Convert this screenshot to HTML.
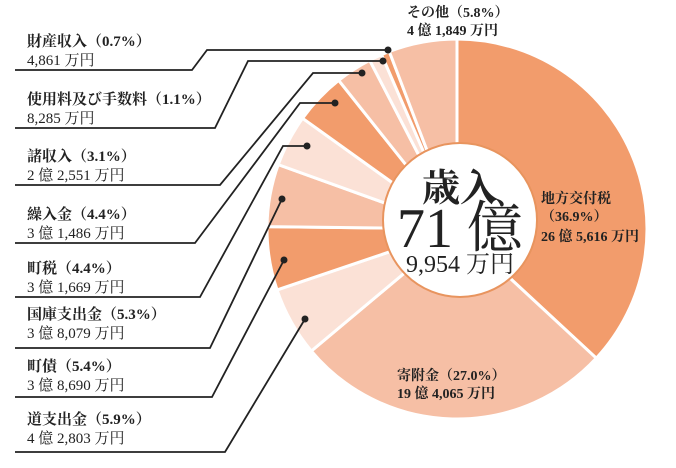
<!DOCTYPE html>
<html><head><meta charset="utf-8"><style>
body{margin:0;background:#fff;width:676px;height:463px;overflow:hidden}
svg text{font-family:"Liberation Serif","Noto Serif CJK SC",serif;font-weight:bold;fill:#222}
svg text.n{font-weight:normal}
</style></head><body>
<svg id="s" width="676" height="463" viewBox="0 0 676 463"></svg>
<script>
const s=document.getElementById('s');
const cx=457,cy=229,r=190;
const D='#f29c6c',M='#f6bfa5',L='#fbe1d6';
const data=[[36.9,D],[27.0,M],[5.9,L],[5.4,D],[5.3,M],[4.4,L],[4.4,D],[3.1,M],[1.1,L],[0.7,D],[5.8,M]];
let a=0,h='';
function pt(t,rr){const q=(t/100)*2*Math.PI;return [cx+rr*Math.sin(q),cy-rr*Math.cos(q)];}
data.forEach(([v,c])=>{const p1=pt(a,r),p2=pt(a+v,r);const lg=v>50?1:0;
h+=`<path d="M${cx},${cy}L${p1[0]},${p1[1]}A${r},${r} 0 ${lg} 1 ${p2[0]},${p2[1]}Z" fill="${c}" stroke="#fff" stroke-width="3"/>`;a+=v;});
h+=`<circle cx="460" cy="220" r="77" fill="#fff" stroke="#e8945e" stroke-width="2"/>`;
const lines=[
[[15,70],[192,70],[207,50],[388,50]],
[[15,128],[215,128],[248,61],[383,61]],
[[15,185],[220,185],[313,73],[362,73]],
[[15,243],[195,243],[300,103],[335,103]],
[[15,297],[200,297],[283,146],[307,146]],
[[15,348],[210,348],[282,199]],
[[15,397],[212,397],[284,260]],
[[15,452],[225,452],[305,319]]];
lines.forEach(l=>{h+=`<polyline points="${l.map(p=>p.join(',')).join(' ')}" fill="none" stroke="#222" stroke-width="1.8"/>`;const e=l[l.length-1];h+=`<circle cx="${e[0]}" cy="${e[1]}" r="3.5" fill="#222"/>`;});
const labs=[["財産収入（0.7%）","4,861 万円",46],["使用料及び手数料（1.1%）","8,285 万円",104],["諸収入（3.1%）","2 億 2,551 万円",161],["繰入金（4.4%）","3 億 1,486 万円",219],["町税（4.4%）","3 億 1,669 万円",273],["国庫支出金（5.3%）","3 億 8,079 万円",319],["町債（5.4%）","3 億 8,690 万円",371],["道支出金（5.9%）","4 億 2,803 万円",424]];
labs.forEach(([a1,b,y])=>{h+=`<text x="27" y="${y}" font-size="15">${a1}</text><text class="n" x="27" y="${y+19}" font-size="15">${b}</text>`;});
h+=`<text x="407" y="17" font-size="14">その他（5.8%）</text><text x="407" y="35" font-size="14">4 億 1,849 万円</text>`;
h+=`<text x="541" y="203" font-size="14">地方交付税</text><text x="541" y="221" font-size="14">（36.9%）</text><text x="541" y="241" font-size="14">26 億 5,616 万円</text>`;
h+=`<text x="397" y="380" font-size="14">寄附金（27.0%）</text><text x="397" y="398" font-size="14">19 億 4,065 万円</text>`;
h+=`<text x="460" y="201" font-size="38" text-anchor="middle">歳入</text><text class="n" x="460" y="247" font-size="56" text-anchor="middle">71 億</text><text class="n" x="460" y="272" font-size="24" text-anchor="middle">9,954 万円</text>`;
s.innerHTML=h;
</script>
</body></html>
